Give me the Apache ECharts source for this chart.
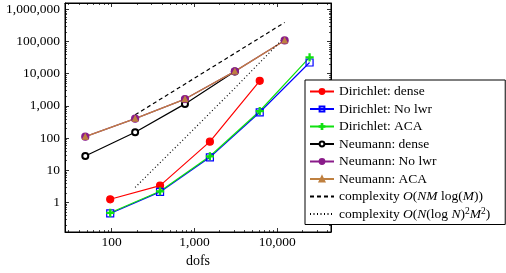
<!DOCTYPE html>
<html><head><meta charset="utf-8">
<script src="https://cdn.jsdelivr.net/npm/echarts@6/dist/echarts.min.js"></script>
<style>html,body{margin:0;padding:0;background:#fff}#c{width:506px;height:273px}</style>
</head><body><div id="c"></div>
<script>
// data
const dofsD = [96, 384, 1536, 6144, 24576];
const dofsN = [48, 192, 768, 3072, 12288];
const dirDense = [1.24, 3.3, 77, 6000];
const dirNoLwr = [0.45, 2.1, 25, 630, 22300];
const dirACA = [0.47, 2.2, 27, 690, 32000];
const neuDense = [27.5, 150, 1150, 11700];
const neuNoLwr = [110, 400, 1620, 11800, 108000];
const neuACA = [110, 400, 1620, 11800, 108000];
const cplx1X = [192, 12288];
const cplx1Y = [525, 392000];
const cplx2X = [192, 768, 3072, 12288];
const cplx2Y = [2.9, 100, 3560, 138000];
const xMinor = [30,40,50,60,70,80,90,200,300,400,500,600,700,800,900,2000,3000,4000,5000,6000,7000,8000,9000,20000,30000,40000];
const yMinor = [];
[0.1,1,10,100,1000,10000,100000,1000000].forEach(d=>{[2,3,4,5,6,7,8,9].forEach(k=>{const v=d*k; if(v>0.119 && v<1.58e6) yMinor.push(v);});});

const XMIN=27.3, XMAX=44600, YMIN=0.119, YMAX=1.58e6;
const serif = 'Liberation Serif';
const zip = (xs, ys) => ys.map((y,i)=>[xs[i], y]);
const isPow10 = v => { const l = Math.log10(v); return Math.abs(l - Math.round(l)) < 1e-6; };
const fmt = v => isPow10(v) ? Math.round(v).toLocaleString('en-US') : '';

const legendNames = {
  'c1': 'complexity {i|O}({i|NM} log({i|M}))',
  'c2': 'complexity {i|O}({i|N}(log {i|N}){s|2}{i|M}{s|2})'
};
function lineSeries(name, data, color, symbol, size, extra) {
  return Object.assign({
    name, type: 'line', data, symbol, symbolSize: size,
    lineStyle: {color, width: 1.2}, itemStyle: {color, borderColor: color, borderWidth: 1.2},
    animation: false
  }, extra||{});
}
const plusPath = 'path://M-0.15,-1 L0.15,-1 L0.15,-0.15 L1,-0.15 L1,0.15 L0.15,0.15 L0.15,1 L-0.15,1 L-0.15,0.15 L-1,0.15 L-1,-0.15 L-0.15,-0.15 Z';

const chart = echarts.init(document.getElementById('c'), null, {renderer:'canvas'});
const axisCommon = {
  type: 'log', logBase: 10,
  axisLine: {show: true, onZero: false, lineStyle: {color: '#000', width: 1}},
  axisTick: {show: true, inside: true, length: 4, lineStyle: {color: '#000', width: 0.8}},
  splitLine: {show: false},
  minorTick: {show: false}
};
chart.setOption({
  animation: false,
  grid: {left: 65, right: 175, top: 3, bottom: 41, show: true, borderColor: '#000', borderWidth: 1, outerBoundsMode: 'none', containLabel: false},
  xAxis: [
    Object.assign({}, axisCommon, {min: XMIN, max: XMAX, position: 'bottom',
      name: 'dofs', nameLocation: 'middle', nameGap: 22,
      nameTextStyle: {fontFamily: serif, fontSize: 14, color: '#000'},
      axisLabel: {formatter: fmt, fontFamily: serif, fontSize: 13.5, color: '#000', margin: 3}}),
    Object.assign({}, axisCommon, {min: XMIN, max: XMAX, position: 'top', axisLabel: {show: false}})
  ],
  yAxis: [
    Object.assign({}, axisCommon, {min: YMIN, max: YMAX, position: 'left',
      name: 'CPU time', nameLocation: 'middle', nameGap: 40,
      nameTextStyle: {fontFamily: serif, fontSize: 14.5, color: '#000'},
      axisLabel: {formatter: fmt, fontFamily: serif, fontSize: 13.5, color: '#000', margin: 5}}),
    Object.assign({}, axisCommon, {min: YMIN, max: YMAX, position: 'right', axisLabel: {show: false}})
  ],
  legend: {
    orient: 'vertical', left: 305, top: 80,
    data: ['Dirichlet: dense','Dirichlet: No lwr','Dirichlet: ACA','Neumann: dense','Neumann: No lwr','Neumann: ACA',
      {name: 'c1', itemStyle: {opacity: 0}}, {name: 'c2', itemStyle: {opacity: 0}}],
    backgroundColor: '#fff', borderColor: '#000', borderWidth: 1,
    padding: [4, 15, 3, 4], itemGap: 2.5, itemWidth: 24, itemHeight: 6,
    textStyle: {fontFamily: serif, fontSize: 13.5, color: '#000', lineHeight: 15,
      rich: {i: {fontStyle: 'italic', fontFamily: serif, fontSize: 13.5},
             s: {fontSize: 9.5, fontFamily: serif, verticalAlign: 'top', lineHeight: 15}}},
    formatter: n => legendNames[n] || n,
    selectedMode: false
  },
  series: [
    lineSeries('Dirichlet: dense', zip(dofsD, dirDense), '#ff0000', 'circle', 7),
    lineSeries('Dirichlet: No lwr', zip(dofsD, dirNoLwr), '#0000ff', 'rect', 7, {itemStyle:{color:'rgba(0,0,0,0)', borderColor:'#0000ff', borderWidth:1.2}}),
    lineSeries('Dirichlet: ACA', zip(dofsD, dirACA), '#10e010', plusPath, 7),
    lineSeries('Neumann: dense', zip(dofsN, neuDense), '#000000', 'emptyCircle', 6),
    lineSeries('Neumann: No lwr', zip(dofsN, neuNoLwr), '#8a1c8a', 'circle', 7),
    lineSeries('Neumann: ACA', zip(dofsN, neuACA), '#bf8040', 'triangle', 5),
    lineSeries('c1', zip(cplx1X, cplx1Y), '#000', 'circle', 0, {showSymbol: false, lineStyle:{color:'#000', width:1.2, type:[4,3]}}),
    lineSeries('c2', zip(cplx2X, cplx2Y), '#000', 'circle', 0, {showSymbol: false, lineStyle:{color:'#000', width:1.2, type:[1,2.5]}}),
    {
      type: 'custom', silent: true, animation: false, clip: false,
      data: xMinor.map(v => [v, 1]),
      renderItem: (params, api) => {
        const cs = params.coordSys;
        const x = Math.round(api.coord([api.value(0), 1])[0]) + 0.5;
        return {type: 'group', children: [
          {type: 'line', shape: {x1: x, y1: cs.y + cs.height, x2: x, y2: cs.y + cs.height - 2}, style: {stroke: '#000', lineWidth: 0.7}},
          {type: 'line', shape: {x1: x, y1: cs.y, x2: x, y2: cs.y + 2}, style: {stroke: '#000', lineWidth: 0.7}}
        ]};
      }
    },
    {
      type: 'custom', silent: true, animation: false, clip: false,
      data: yMinor.map(v => [100, v]),
      renderItem: (params, api) => {
        const cs = params.coordSys;
        const y = Math.round(api.coord([100, api.value(1)])[1]) + 0.5;
        return {type: 'group', children: [
          {type: 'line', shape: {x1: cs.x, y1: y, x2: cs.x + 2, y2: y}, style: {stroke: '#000', lineWidth: 0.7}},
          {type: 'line', shape: {x1: cs.x + cs.width, y1: y, x2: cs.x + cs.width - 2, y2: y}, style: {stroke: '#000', lineWidth: 0.7}}
        ]};
      }
    }
  ]
});
</script></body></html>
